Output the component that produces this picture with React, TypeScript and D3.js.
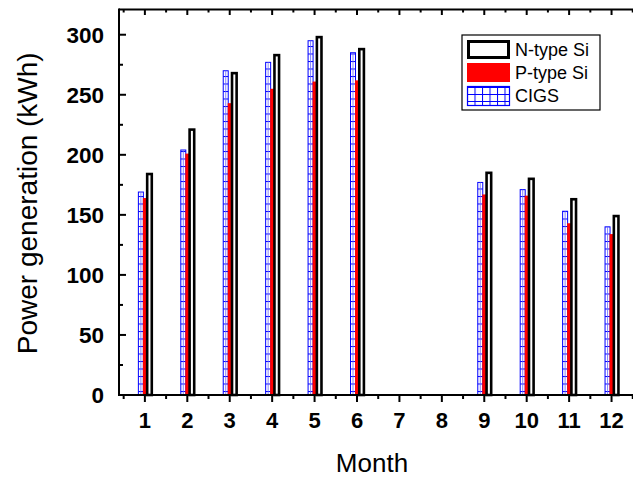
import React from 'react';
import * as d3 from 'd3';

const months = [1, 2, 3, 4, 5, 6, 7, 8, 9, 10, 11, 12];
const monthLabels = ['1', '2', '3', '4', '5', '6', '7', '8', '9', '10', '11', '12'];
const cigs = [169, 204, 270, 277, 295, 285, 0, 0, 177, 171, 153, 140];
const pType = [164, 201, 243, 255, 261, 262, 0, 0, 167, 166, 143, 134];
const nType = [184, 221, 268, 283, 298, 288, 0, 0, 185, 180, 163, 149];
const yTicks = [0, 50, 100, 150, 200, 250, 300];
const yMinor = [25, 75, 125, 175, 225, 275];
const seriesNames = ['N-type Si', 'P-type Si', 'CIGS'];

const W = 633;
const H = 478;
const FONT = 'Liberation Sans, Arial, Helvetica, sans-serif';

export default function App() {
  const x = d3.scaleLinear().domain([0.39, 12.6]).range([119, 637]);
  const y = d3.scaleLinear().domain([0, 321]).range([395, 9.5]);
  const y0 = y(0);
  const xMinor = d3.range(0.5, 12.6, 0.5).filter((v) => Math.abs(v - Math.round(v)) > 0.1);

  return (
    <svg width={W} height={H} style={{ position: 'fixed', left: 0, top: 0, background: '#fff' }} fontFamily={FONT}>
      <defs>
        <pattern id="hgrid" patternUnits="userSpaceOnUse" width="8" height="7.5" y="1">
          <rect width="8" height="7.5" fill="#fff" />
          <line x1="0" x2="8" y1="0.5" y2="0.5" stroke="#0000ff" strokeWidth="1" />
        </pattern>
        <pattern id="lgrid" patternUnits="userSpaceOnUse" width="7.5" height="7" x="467" y="87">
          <rect width="7.5" height="7" fill="#fff" />
          <line x1="0" x2="7.5" y1="0.5" y2="0.5" stroke="#0000ff" strokeWidth="1" />
          <line x1="0.5" x2="0.5" y1="0" y2="7" stroke="#0000ff" strokeWidth="1" />
        </pattern>
      </defs>
      <rect width={W} height={H} fill="#fff" />

      {/* bars */}
      {months.map((m, i) => {
        const c = x(m);
        const els: any[] = [];
        if (cigs[i] > 0) {
          const top = y(cigs[i]);
          els.push(
            <g key={'c' + m}>
              <rect x={c - 6.5} y={top} width={5} height={y0 - top} fill="url(#hgrid)" stroke="#0000ff" strokeWidth={1} />
              <line x1={c - 4} x2={c - 4} y1={top} y2={y0} stroke="#6a6aff" strokeWidth={0.8} />
            </g>
          );
        }
        if (pType[i] > 0) {
          const top = y(pType[i]);
          els.push(<rect key={'p' + m} x={c - 2} y={top} width={5.5} height={y0 - top} fill="#ff0000" />);
        }
        if (nType[i] > 0) {
          const top = y(nType[i]);
          els.push(
            <rect key={'n' + m} x={c + 2.3} y={top} width={4.6} height={y0 - top} fill="#fff" stroke="#000" strokeWidth={2.6} />
          );
        }
        return <g key={m}>{els}</g>;
      })}

      {/* frame */}
      <line x1={119} x2={637} y1={y0} y2={y0} stroke="#000" strokeWidth={2} />
      <line x1={119} x2={637} y1={9.5} y2={9.5} stroke="#000" strokeWidth={2} />
      <line x1={119} x2={119} y1={8.5} y2={y0 + 1} stroke="#000" strokeWidth={2} />

      {/* y ticks */}
      {yTicks.map((t) => (
        <g key={'yt' + t}>
          <line x1={119} x2={126} y1={y(t)} y2={y(t)} stroke="#000" strokeWidth={2} />
          <text x={104} y={y(t)} dy="0.36em" textAnchor="end" fontSize={22.5} fontWeight="bold">{t}</text>
        </g>
      ))}
      {yMinor.map((t) => (
        <line key={'ym' + t} x1={119} x2={123} y1={y(t)} y2={y(t)} stroke="#000" strokeWidth={2} />
      ))}

      {/* x ticks */}
      {months.map((m, i) => (
        <g key={'xt' + m}>
          <line x1={x(m)} x2={x(m)} y1={y0} y2={y0 + 7} stroke="#000" strokeWidth={2} />
          <line x1={x(m)} x2={x(m)} y1={9.5} y2={15} stroke="#000" strokeWidth={2} />
          <text x={x(m)} y={y0 + 33} textAnchor="middle" fontSize={22} fontWeight="bold">{monthLabels[i]}</text>
        </g>
      ))}
      {xMinor.map((m) => (
        <g key={'xm' + m}>
          <line x1={x(m)} x2={x(m)} y1={y0} y2={y0 + 4} stroke="#000" strokeWidth={2} />
          <line x1={x(m)} x2={x(m)} y1={9.5} y2={12.5} stroke="#000" strokeWidth={2} />
        </g>
      ))}

      {/* axis titles */}
      <text x={372} y={472} textAnchor="middle" fontSize={26}>Month</text>
      <text transform={`translate(37,${(9.5 + y0) / 2 + 1}) rotate(-90)`} textAnchor="middle" fontSize={28}>
        Power generation (kWh)
      </text>

      {/* legend */}
      <g>
        <rect x={462} y={35} width={138} height={75} fill="#fff" stroke="#000" strokeWidth={1.2} />
        <rect x={468.5} y={41.5} width={40} height={16} fill="#fff" stroke="#000" strokeWidth={3} />
        <rect x={467} y={63} width={43} height={19} fill="#ff0000" />
        <rect x={467.5} y={86.5} width={42} height={19} fill="url(#lgrid)" stroke="#0000ff" strokeWidth={1.2} />
        {seriesNames.map((s, i) => (
          <text key={s} x={515} y={50 + i * 23} dy="0.36em" fontSize={18}>{s}</text>
        ))}
      </g>
    </svg>
  );
}
